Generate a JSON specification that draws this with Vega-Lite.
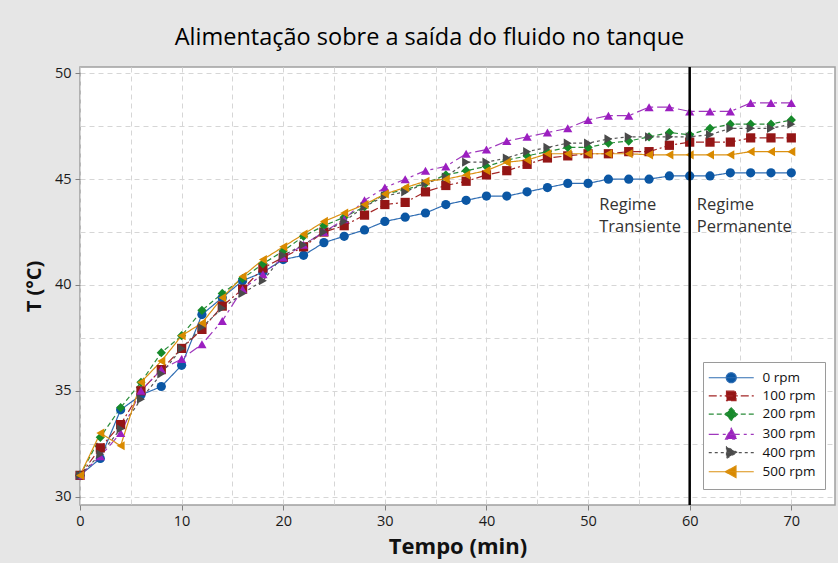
{
  "$schema": "https://vega.github.io/schema/vega-lite/v6.json",
  "autosize": {"type": "none"},
  "padding": {"left": 80, "top": 67, "right": 3, "bottom": 58},
  "width": 755,
  "height": 438,
  "view": {"fill": "#ffffff", "stroke": "#a0a0a0", "strokeWidth": 1.5},
  "title": {"text": "Alimentação sobre a saída do fluido no tanque", "fontSize": 23.5, "fontWeight": "normal", "font": "Open Sans", "color": "#000000", "anchor": "middle", "frame": "group", "dx": -28, "offset": 16},
  "datasets": {
    "temps": [
      {"t": 0, "0 rpm": 31.0, "100 rpm": 31.0, "200 rpm": 31.0, "300 rpm": 31.0, "400 rpm": 31.0, "500 rpm": 31.0},
      {"t": 2, "0 rpm": 31.8, "100 rpm": 32.3, "200 rpm": 32.8, "300 rpm": 31.9, "400 rpm": 32.0, "500 rpm": 33.0},
      {"t": 4, "0 rpm": 34.1, "100 rpm": 33.4, "200 rpm": 34.2, "300 rpm": 33.0, "400 rpm": 33.2, "500 rpm": 32.4},
      {"t": 6, "0 rpm": 34.8, "100 rpm": 35.0, "200 rpm": 35.4, "300 rpm": 35.0, "400 rpm": 34.6, "500 rpm": 35.4},
      {"t": 8, "0 rpm": 35.2, "100 rpm": 36.0, "200 rpm": 36.8, "300 rpm": 36.0, "400 rpm": 35.8, "500 rpm": 36.4},
      {"t": 10, "0 rpm": 36.2, "100 rpm": 37.0, "200 rpm": 37.6, "300 rpm": 36.5, "400 rpm": 37.0, "500 rpm": 37.6},
      {"t": 12, "0 rpm": 38.6, "100 rpm": 37.9, "200 rpm": 38.8, "300 rpm": 37.2, "400 rpm": 38.0, "500 rpm": 38.2},
      {"t": 14, "0 rpm": 39.4, "100 rpm": 39.0, "200 rpm": 39.6, "300 rpm": 38.3, "400 rpm": 38.9, "500 rpm": 39.4},
      {"t": 16, "0 rpm": 40.2, "100 rpm": 39.8, "200 rpm": 40.3, "300 rpm": 39.8, "400 rpm": 39.6, "500 rpm": 40.4},
      {"t": 18, "0 rpm": 40.6, "100 rpm": 40.8, "200 rpm": 41.0, "300 rpm": 40.5, "400 rpm": 40.2, "500 rpm": 41.2},
      {"t": 20, "0 rpm": 41.2, "100 rpm": 41.3, "200 rpm": 41.6, "300 rpm": 41.3, "400 rpm": 41.4, "500 rpm": 41.8},
      {"t": 22, "0 rpm": 41.4, "100 rpm": 41.8, "200 rpm": 42.3, "300 rpm": 41.9, "400 rpm": 41.9, "500 rpm": 42.4},
      {"t": 24, "0 rpm": 42.0, "100 rpm": 42.5, "200 rpm": 42.8, "300 rpm": 42.5, "400 rpm": 42.5, "500 rpm": 43.0},
      {"t": 26, "0 rpm": 42.3, "100 rpm": 42.8, "200 rpm": 43.2, "300 rpm": 43.1, "400 rpm": 43.0, "500 rpm": 43.4},
      {"t": 28, "0 rpm": 42.6, "100 rpm": 43.3, "200 rpm": 43.7, "300 rpm": 44.0, "400 rpm": 43.7, "500 rpm": 43.8},
      {"t": 30, "0 rpm": 43.0, "100 rpm": 43.8, "200 rpm": 44.3, "300 rpm": 44.6, "400 rpm": 44.2, "500 rpm": 44.3},
      {"t": 32, "0 rpm": 43.2, "100 rpm": 43.9, "200 rpm": 44.5, "300 rpm": 45.0, "400 rpm": 44.4, "500 rpm": 44.6},
      {"t": 34, "0 rpm": 43.4, "100 rpm": 44.4, "200 rpm": 44.8, "300 rpm": 45.4, "400 rpm": 44.8, "500 rpm": 44.9},
      {"t": 36, "0 rpm": 43.8, "100 rpm": 44.7, "200 rpm": 45.2, "300 rpm": 45.6, "400 rpm": 45.1, "500 rpm": 45.0},
      {"t": 38, "0 rpm": 44.0, "100 rpm": 44.9, "200 rpm": 45.4, "300 rpm": 46.2, "400 rpm": 45.8, "500 rpm": 45.2},
      {"t": 40, "0 rpm": 44.2, "100 rpm": 45.2, "200 rpm": 45.6, "300 rpm": 46.4, "400 rpm": 45.8, "500 rpm": 45.4},
      {"t": 42, "0 rpm": 44.2, "100 rpm": 45.4, "200 rpm": 45.9, "300 rpm": 46.8, "400 rpm": 46.0, "500 rpm": 45.8},
      {"t": 44, "0 rpm": 44.4, "100 rpm": 45.7, "200 rpm": 46.1, "300 rpm": 47.0, "400 rpm": 46.3, "500 rpm": 45.9},
      {"t": 46, "0 rpm": 44.6, "100 rpm": 46.0, "200 rpm": 46.3, "300 rpm": 47.2, "400 rpm": 46.5, "500 rpm": 46.2},
      {"t": 48, "0 rpm": 44.8, "100 rpm": 46.1, "200 rpm": 46.5, "300 rpm": 47.4, "400 rpm": 46.7, "500 rpm": 46.2},
      {"t": 50, "0 rpm": 44.8, "100 rpm": 46.2, "200 rpm": 46.5, "300 rpm": 47.8, "400 rpm": 46.7, "500 rpm": 46.2},
      {"t": 52, "0 rpm": 45.0, "100 rpm": 46.2, "200 rpm": 46.7, "300 rpm": 48.0, "400 rpm": 46.9, "500 rpm": 46.2},
      {"t": 54, "0 rpm": 45.0, "100 rpm": 46.3, "200 rpm": 46.8, "300 rpm": 48.0, "400 rpm": 47.0, "500 rpm": 46.2},
      {"t": 56, "0 rpm": 45.0, "100 rpm": 46.3, "200 rpm": 47.0, "300 rpm": 48.4, "400 rpm": 47.0, "500 rpm": 46.15},
      {"t": 58, "0 rpm": 45.15, "100 rpm": 46.6, "200 rpm": 47.2, "300 rpm": 48.4, "400 rpm": 47.0, "500 rpm": 46.15},
      {"t": 60, "0 rpm": 45.15, "100 rpm": 46.75, "200 rpm": 47.1, "300 rpm": 48.2, "400 rpm": 47.0, "500 rpm": 46.15},
      {"t": 62, "0 rpm": 45.15, "100 rpm": 46.75, "200 rpm": 47.4, "300 rpm": 48.2, "400 rpm": 47.1, "500 rpm": 46.15},
      {"t": 64, "0 rpm": 45.3, "100 rpm": 46.75, "200 rpm": 47.6, "300 rpm": 48.2, "400 rpm": 47.4, "500 rpm": 46.15},
      {"t": 66, "0 rpm": 45.3, "100 rpm": 46.95, "200 rpm": 47.6, "300 rpm": 48.6, "400 rpm": 47.4, "500 rpm": 46.3},
      {"t": 68, "0 rpm": 45.3, "100 rpm": 46.95, "200 rpm": 47.6, "300 rpm": 48.6, "400 rpm": 47.4, "500 rpm": 46.3},
      {"t": 70, "0 rpm": 45.3, "100 rpm": 46.95, "200 rpm": 47.8, "300 rpm": 48.6, "400 rpm": 47.6, "500 rpm": 46.3}
    ],
    "marker": [{"t": 60}],
    "notes": [
      {"t": 51.1, "T": 43.56, "label": "Regime\nTransiente"},
      {"t": 60.7, "T": 43.56, "label": "Regime\nPermanente"}
    ]
  },
  "layer": [
    {
      "data": {"name": "temps"},
      "transform": [{"fold": ["0 rpm", "100 rpm", "200 rpm", "300 rpm", "400 rpm", "500 rpm"], "as": ["s", "T"]}],
      "mark": {"type": "line", "strokeWidth": 1.2},
      "encoding": {
        "x": {"field": "t", "type": "quantitative", "title": "Tempo (min)", "scale": {"domain": [0, 74.3], "nice": false, "zero": false},
              "axis": {"values": [0, 5, 10, 15, 20, 25, 30, 35, 40, 45, 50, 55, 60, 65, 70], "labelExpr": "datum.value % 10 === 0 ? datum.label : ''", "tickOpacity": {"condition": {"test": "datum.value % 10 === 0", "value": 1}, "value": 0}}},
        "y": {"field": "T", "type": "quantitative", "title": "T (°C)", "scale": {"domain": [29.6, 50.3], "nice": false, "zero": false},
              "axis": {"values": [30, 32.5, 35, 37.5, 40, 42.5, 45, 47.5, 50], "labelExpr": "datum.value % 5 === 0 ? datum.label : ''", "tickOpacity": {"condition": {"test": "datum.value % 5 === 0", "value": 1}, "value": 0}}},
        "color": {"field": "s", "type": "nominal", "legend": null, "scale": {"domain": ["0 rpm", "100 rpm", "200 rpm", "300 rpm", "400 rpm", "500 rpm"], "range": ["#2f6db3", "#a32626", "#2a8c3a", "#9f37bd", "#555555", "#db9112"]}},
        "strokeDash": {"field": "s", "type": "nominal", "legend": null, "scale": {"domain": ["0 rpm", "100 rpm", "200 rpm", "300 rpm", "400 rpm", "500 rpm"], "range": [[1, 0], [8, 3, 2, 3], [5, 3], [10, 4, 3, 4], [3, 3], [1, 0]]}}
      }
    },
    {
      "data": {"name": "temps"},
      "transform": [{"fold": ["0 rpm", "100 rpm", "200 rpm", "300 rpm", "400 rpm", "500 rpm"], "as": ["s", "T"]}],
      "mark": {"type": "point", "filled": true, "opacity": 1, "size": 85},
      "encoding": {
        "x": {"field": "t", "type": "quantitative", "title": "Tempo (min)", "scale": {"domain": [0, 74.3], "nice": false, "zero": false},
              "axis": {"values": [0, 5, 10, 15, 20, 25, 30, 35, 40, 45, 50, 55, 60, 65, 70], "labelExpr": "datum.value % 10 === 0 ? datum.label : ''", "tickOpacity": {"condition": {"test": "datum.value % 10 === 0", "value": 1}, "value": 0}}},
        "y": {"field": "T", "type": "quantitative", "title": "T (°C)", "scale": {"domain": [29.6, 50.3], "nice": false, "zero": false},
              "axis": {"values": [30, 32.5, 35, 37.5, 40, 42.5, 45, 47.5, 50], "labelExpr": "datum.value % 5 === 0 ? datum.label : ''", "tickOpacity": {"condition": {"test": "datum.value % 5 === 0", "value": 1}, "value": 0}}},
        "color": {"field": "s", "type": "nominal", "legend": null, "scale": {"domain": ["0 rpm", "100 rpm", "200 rpm", "300 rpm", "400 rpm", "500 rpm"], "range": ["#0b57a4", "#941616", "#168a2a", "#9b1fc0", "#4a4a4a", "#d98a00"]}},
        "shape": {"field": "s", "type": "nominal", "legend": null, "scale": {"domain": ["0 rpm", "100 rpm", "200 rpm", "300 rpm", "400 rpm", "500 rpm"], "range": ["circle", "square", "diamond", "triangle-up", "triangle-right", "triangle-left"]}}
      }
    },
    {
      "data": {"name": "marker"},
      "mark": {"type": "rule", "color": "black", "strokeWidth": 2.5},
      "encoding": {
        "x": {"field": "t", "type": "quantitative", "title": "Tempo (min)", "scale": {"domain": [0, 74.3], "nice": false, "zero": false},
              "axis": {"values": [0, 5, 10, 15, 20, 25, 30, 35, 40, 45, 50, 55, 60, 65, 70], "labelExpr": "datum.value % 10 === 0 ? datum.label : ''", "tickOpacity": {"condition": {"test": "datum.value % 10 === 0", "value": 1}, "value": 0}}}
      }
    },
    {
      "data": {"name": "notes"},
      "mark": {"type": "text", "align": "left", "baseline": "alphabetic", "fontSize": 16.5, "color": "#333333", "lineBreak": "\n", "lineHeight": 22.7, "font": "Open Sans"},
      "encoding": {
        "x": {"field": "t", "type": "quantitative", "title": "Tempo (min)", "scale": {"domain": [0, 74.3], "nice": false, "zero": false},
              "axis": {"values": [0, 5, 10, 15, 20, 25, 30, 35, 40, 45, 50, 55, 60, 65, 70], "labelExpr": "datum.value % 10 === 0 ? datum.label : ''", "tickOpacity": {"condition": {"test": "datum.value % 10 === 0", "value": 1}, "value": 0}}},
        "y": {"field": "T", "type": "quantitative", "title": "T (°C)", "scale": {"domain": [29.6, 50.3], "nice": false, "zero": false},
              "axis": {"values": [30, 32.5, 35, 37.5, 40, 42.5, 45, 47.5, 50], "labelExpr": "datum.value % 5 === 0 ? datum.label : ''", "tickOpacity": {"condition": {"test": "datum.value % 5 === 0", "value": 1}, "value": 0}}},
        "text": {"field": "label", "type": "nominal"}
      }
    },
    {
      "data": {"name": "temps"},
      "transform": [{"fold": ["0 rpm", "100 rpm", "200 rpm", "300 rpm", "400 rpm", "500 rpm"], "as": ["s", "T"]}, {"filter": "false"}],
      "mark": {"type": "point", "filled": true, "opacity": 1},
      "encoding": {
        "color": {"field": "s", "type": "nominal", "scale": {"domain": ["0 rpm", "100 rpm", "200 rpm", "300 rpm", "400 rpm", "500 rpm"], "range": ["#0b57a4", "#941616", "#168a2a", "#9b1fc0", "#4a4a4a", "#d98a00"]}, "legend": {"title": null}},
        "stroke": {"field": "s", "type": "nominal", "scale": {"domain": ["0 rpm", "100 rpm", "200 rpm", "300 rpm", "400 rpm", "500 rpm"], "range": ["#2f6db3", "#a32626", "#2a8c3a", "#9f37bd", "#555555", "#db9112"]}, "legend": {"title": null}},
        "strokeDash": {"field": "s", "type": "nominal", "scale": {"domain": ["0 rpm", "100 rpm", "200 rpm", "300 rpm", "400 rpm", "500 rpm"], "range": [[1, 0], [8, 3, 2, 3], [5, 3], [10, 4, 3, 4], [3, 3], [1, 0]]}, "legend": {"title": null}},
        "shape": {"field": "s", "type": "nominal", "scale": {"domain": ["0 rpm", "100 rpm", "200 rpm", "300 rpm", "400 rpm", "500 rpm"], "range": [
          "M-4.5,0H4.5M1,0A1,1,0,1,1,-1,0A1,1,0,1,1,1,0Z",
          "M-4.5,0H4.5M-0.95,-0.95H0.95V0.95H-0.95Z",
          "M-4.5,0H4.5M0,-1.25L1.25,0L0,1.25L-1.25,0Z",
          "M-4.5,0H4.5M0,-1.2L1.15,0.95L-1.15,0.95Z",
          "M-4.5,0H4.5M1.2,0L-0.95,-1.15L-0.95,1.15Z",
          "M-4.5,0H4.5M-1.2,0L0.95,-1.15L0.95,1.15Z"
        ]}, "legend": {"title": null}}
      }
    }
  ],
  "resolve": {"scale": {"color": "independent", "shape": "independent", "strokeDash": "independent", "stroke": "independent"}},
  "config": {
    "background": "#e6e6e6",
    "font": "Open Sans",
    "view": {"fill": "#ffffff", "stroke": "#a0a0a0", "strokeWidth": 1.5},
    "axis": {
      "grid": true, "gridDash": [5, 4], "gridColor": "#d6d6d6", "gridWidth": 1,
      "domain": false, "tickColor": "#808080", "tickSize": 5, "tickWidth": 1,
      "labelFontSize": 14.5, "labelColor": "#1a1a1a", "labelPadding": 4, "labelFlush": false,
      "titleColor": "#111111", "titleFontWeight": "bold"
    },
    "axisX": {"titlePadding": 9, "titleFontSize": 22},
    "axisY": {"titlePadding": 10, "titleFontSize": 20},
    "legend": {
      "orient": "none", "legendX": 623, "legendY": 295,
      "symbolSize": 100, "symbolOffset": 12.5, "labelOffset": 24.5, "symbolStrokeWidth": 1.2,
      "labelFontSize": 13.5, "labelColor": "#111111", "labelFont": "Open Sans",
      "labelExpr": "datum.label + '       '",
      "rowPadding": 2.2, "padding": 9,
      "strokeColor": "#9a9a9a", "fillColor": "white"
    }
  }
}
